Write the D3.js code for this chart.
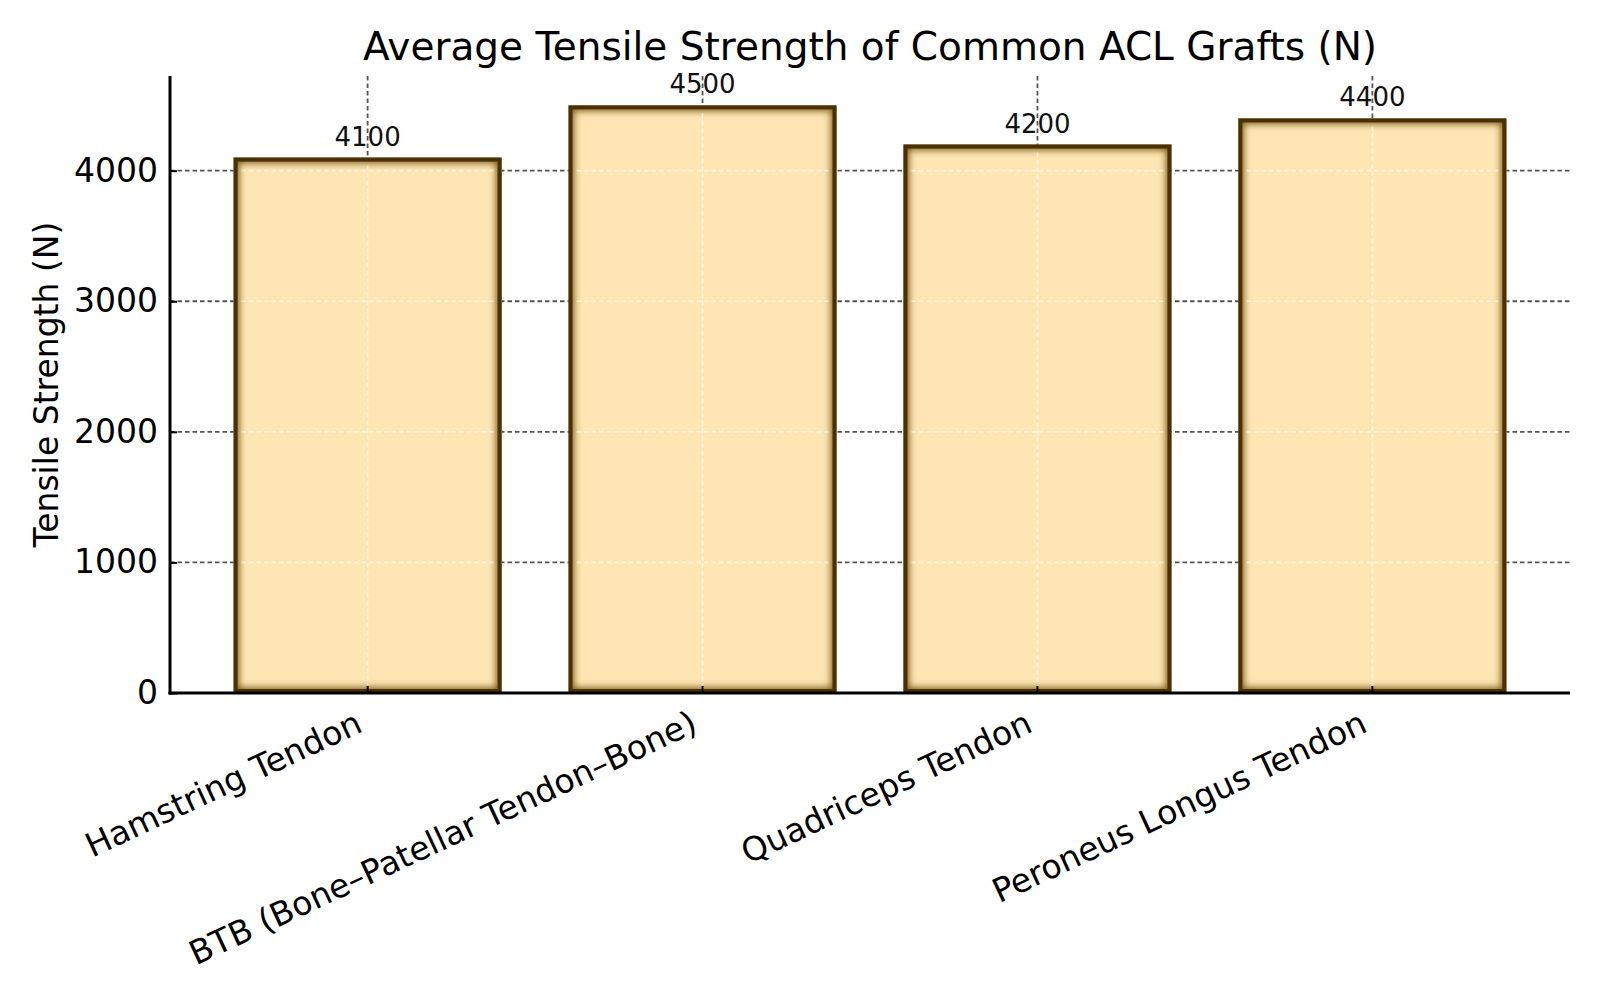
<!DOCTYPE html>
<html>
<head>
<meta charset="utf-8">
<script src="https://cdn.jsdelivr.net/npm/d3@7"></script>
<style>
  html, body { margin: 0; padding: 0; background: #fff; }
  svg { display: block; font-family: "DejaVu Sans", sans-serif; }
</style>
</head>
<body>
<svg id="chart" width="1600" height="1000"></svg>
<script>
const categories = [
  "Hamstring Tendon",
  "BTB (Bone–Patellar Tendon–Bone)",
  "Quadriceps Tendon",
  "Peroneus Longus Tendon"
];
const values = [4100, 4500, 4200, 4400];
const yTicks = [0, 1000, 2000, 3000, 4000];
const title = "Average Tensile Strength of Common ACL Grafts (N)";
const yLabel = "Tensile Strength (N)";

const svg = d3.select("#chart");
const pL = 170, pR = 1570, pT = 76, pB = 693;

const defs = svg.append("defs");
const blur = defs.append("filter").attr("id", "edgeBlur")
  .attr("x", "-10%").attr("y", "-10%").attr("width", "120%").attr("height", "120%");
blur.append("feGaussianBlur").attr("stdDeviation", 3.5);

// x scale: band mimicking matplotlib (bar width 0.8, margins 0.05)
const x = d3.scaleBand().domain(categories).range([pL, pR]).paddingInner(0.2).paddingOuter(0.19);
const y = d3.scaleLinear().domain([0, 4725]).range([pB, pT]);

// background grid (dark dashed)
const grid = svg.append("g");
grid.selectAll("line.h").data(yTicks.filter(d => d > 0)).join("line")
  .attr("x1", pL).attr("x2", pR)
  .attr("y1", d => y(d)).attr("y2", d => y(d))
  .attr("stroke", "#555").attr("stroke-width", 1.8).attr("stroke-dasharray", "4.5,3");
grid.selectAll("line.v").data(categories).join("line")
  .attr("x1", d => x(d) + x.bandwidth() / 2).attr("x2", d => x(d) + x.bandwidth() / 2)
  .attr("y1", pT).attr("y2", pB)
  .attr("stroke", "#555").attr("stroke-width", 1.8).attr("stroke-dasharray", "4.5,3");

// bars
const bars = svg.append("g");
categories.forEach((c, i) => {
  const bx = x(c), bw = x.bandwidth(), by = y(values[i]), bh = pB - y(values[i]);
  const cid = "clip" + i;
  defs.append("clipPath").attr("id", cid).append("rect")
    .attr("x", bx).attr("y", by).attr("width", bw).attr("height", bh);
  const g = bars.append("g");
  g.append("rect").attr("x", bx).attr("y", by).attr("width", bw).attr("height", bh)
    .attr("fill", "#fde6b3");
  g.append("rect").attr("x", bx).attr("y", by).attr("width", bw).attr("height", bh)
    .attr("fill", "none").attr("stroke", "#6e4a10").attr("stroke-width", 11)
    .attr("filter", "url(#edgeBlur)").attr("clip-path", `url(#${cid})`).attr("opacity", 0.9);
  g.append("rect").attr("x", bx + 2).attr("y", by + 2).attr("width", bw - 4).attr("height", bh - 4)
    .attr("fill", "none").attr("stroke", "#4a3004").attr("stroke-width", 4);
});

// faint grid on top of bars
const fg = svg.append("g");
categories.forEach((c, i) => {
  const bx = x(c), bw = x.bandwidth(), by = y(values[i]);
  yTicks.filter(d => d > 0 && d < values[i]).forEach(t => {
    fg.append("line").attr("x1", bx + 8).attr("x2", bx + bw - 8)
      .attr("y1", y(t)).attr("y2", y(t))
      .attr("stroke", "#fff").attr("stroke-opacity", 0.55).attr("stroke-width", 1.6)
      .attr("stroke-dasharray", "4.5,3");
  });
  const cx = bx + bw / 2;
  fg.append("line").attr("x1", cx).attr("x2", cx).attr("y1", by + 8).attr("y2", pB - 8)
    .attr("stroke", "#fff").attr("stroke-opacity", 0.55).attr("stroke-width", 1.6)
    .attr("stroke-dasharray", "4.5,3");
});

// value labels
svg.append("g").selectAll("text").data(categories).join("text")
  .attr("x", d => x(d) + x.bandwidth() / 2)
  .attr("y", (d, i) => y(values[i]) - 12)
  .attr("text-anchor", "middle").attr("font-size", 26).attr("fill", "#111")
  .text((d, i) => values[i]);

// axes
const yAxis = svg.append("g").attr("transform", `translate(${pL},0)`)
  .call(d3.axisLeft(y).tickValues(yTicks).tickSizeInner(-7).tickSizeOuter(0).tickPadding(12).tickFormat(d3.format("d")));
yAxis.select(".domain").remove();
yAxis.selectAll(".tick line").attr("stroke", "#000").attr("stroke-width", 2);
yAxis.selectAll(".tick text").attr("font-size", 33).attr("fill", "#000").attr("font-family", "DejaVu Sans");

const xAxis = svg.append("g").attr("transform", `translate(0,${pB})`)
  .call(d3.axisBottom(x).tickSizeInner(-7).tickSizeOuter(0).tickPadding(0));
xAxis.select(".domain").remove();
xAxis.selectAll(".tick line").attr("stroke", "#000").attr("stroke-width", 2);
xAxis.selectAll(".tick text").remove();

// rotated x tick labels (ha='right', rotation=25)
const fs = 33, asc = 0.93 * fs, desc = 0.24 * fs, th = 25 * Math.PI / 180;
svg.append("g").selectAll("text").data(categories).join("text")
  .attr("transform", d => {
    const tx = x(d) + x.bandwidth() / 2 - Math.sin(th) * desc;
    const ty = pB + 10 + Math.cos(th) * asc;
    return `translate(${tx},${ty}) rotate(-25)`;
  })
  .attr("text-anchor", "end").attr("font-size", fs).attr("fill", "#000")
  .text(d => d);

// spines
svg.append("line").attr("x1", pL).attr("x2", pL).attr("y1", pT).attr("y2", pB + 1.5)
  .attr("stroke", "#000").attr("stroke-width", 3);
svg.append("line").attr("x1", pL - 1.5).attr("x2", pR).attr("y1", pB).attr("y2", pB)
  .attr("stroke", "#000").attr("stroke-width", 3);

// y label
svg.append("text").attr("transform", `translate(58,${(pT + pB) / 2}) rotate(-90)`)
  .attr("text-anchor", "middle").attr("font-size", 33).attr("fill", "#000").text(yLabel);

// title
svg.append("text").attr("x", (pL + pR) / 2).attr("y", 60)
  .attr("text-anchor", "middle").attr("font-size", 39).attr("fill", "#000").text(title);
</script>
</body>
</html>
